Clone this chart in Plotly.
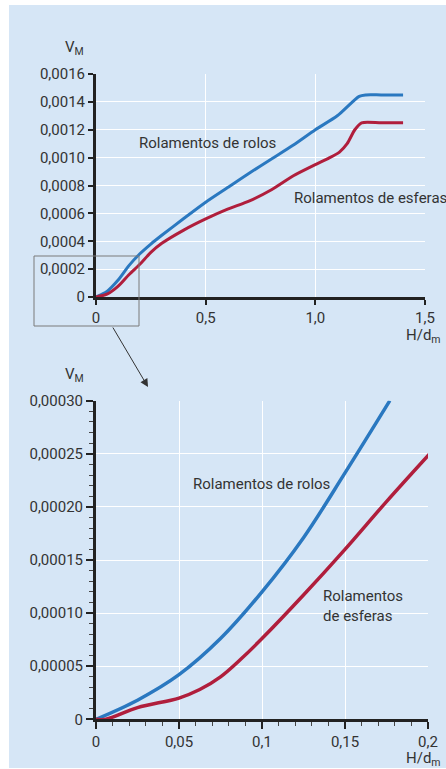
import plotly.graph_objects as go

W, H = 446, 769

# ---- data: overview chart ----
top_x_rolos = [0, 0.05, 0.1, 0.15, 0.2, 0.25, 0.3, 0.4, 0.5, 0.6, 0.7, 0.8, 0.9, 1.0, 1.1, 1.2, 1.23, 1.3, 1.4]
top_y_rolos = [0, 0.00004, 0.00012, 0.000225, 0.00031, 0.00038, 0.000443, 0.000563, 0.00068, 0.000785, 0.00089,
               0.00099, 0.00109, 0.0012, 0.0013, 0.00144, 0.00145, 0.00145, 0.00145]
top_x_esferas = [0, 0.05, 0.1, 0.15, 0.2, 0.25, 0.3, 0.4, 0.5, 0.6, 0.7, 0.8, 0.9, 1.0, 1.06, 1.11, 1.145, 1.18, 1.211, 1.3, 1.4]
top_y_esferas = [0, 0.00002, 0.000076, 0.00016, 0.000235, 0.00032, 0.000385, 0.00048, 0.00056, 0.00063, 0.00069,
                 0.00077, 0.00087, 0.00095, 0.000995, 0.00104, 0.0011, 0.0012, 0.00125, 0.00125, 0.00125]

# ---- data: zoomed chart ----
bot_x_rolos = [0, 0.025, 0.05, 0.075, 0.1, 0.125, 0.15, 0.177]
bot_y_rolos = [0, 0.000018, 0.000042, 0.000076, 0.00012, 0.000171, 0.000232, 0.0003]
bot_x_esferas = [0, 0.006, 0.025, 0.05, 0.0625, 0.075, 0.0875, 0.1, 0.125, 0.15, 0.175, 0.201]
bot_y_esferas = [0, 0, 0.000011, 0.00002, 0.000028, 0.00004, 0.000057, 0.000076, 0.000117, 0.00016, 0.000205, 0.00025]

top_xticks = [0, 0.5, 1.0, 1.5]
top_xlabels = ["0", "0,5", "1,0", "1,5"]
top_yticks = [0, 0.0002, 0.0004, 0.0006, 0.0008, 0.0010, 0.0012, 0.0014, 0.0016]
top_ylabels = ["0", "0,0002", "0,0004", "0,0006", "0,0008", "0,0010", "0,0012", "0,0014", "0,0016"]
bot_xticks = [0, 0.05, 0.1, 0.15, 0.2]
bot_xlabels = ["0", "0,05", "0,1", "0,15", "0,2"]
bot_yticks = [0, 0.00005, 0.0001, 0.00015, 0.0002, 0.00025, 0.0003]
bot_ylabels = ["0", "0,00005", "0,00010", "0,00015", "0,00020", "0,00025", "0,00030"]

BLUE = "#2a78c0"
RED = "#b01e3c"
BG = "#d6e6f6"
TXT = "#333333"
FONT = "Roboto"

fig = go.Figure()
fig.add_trace(go.Scatter(x=top_x_rolos, y=top_y_rolos, mode="lines", line=dict(color=BLUE, width=3, shape="spline", smoothing=0.7),
                         xaxis="x", yaxis="y", showlegend=False, cliponaxis=False))
fig.add_trace(go.Scatter(x=top_x_esferas, y=top_y_esferas, mode="lines", line=dict(color=RED, width=3, shape="spline", smoothing=0.7),
                         xaxis="x", yaxis="y", showlegend=False, cliponaxis=False))
fig.add_trace(go.Scatter(x=bot_x_rolos, y=bot_y_rolos, mode="lines", line=dict(color=BLUE, width=3.5, shape="spline", smoothing=1.0),
                         xaxis="x2", yaxis="y2", showlegend=False, cliponaxis=False))
fig.add_trace(go.Scatter(x=bot_x_esferas, y=bot_y_esferas, mode="lines", line=dict(color=RED, width=3.5, shape="spline", smoothing=1.0),
                         xaxis="x2", yaxis="y2", showlegend=False, cliponaxis=False))

def px_x(p):
    return p / W

def px_y(p):
    return 1 - p / H

axis_common = dict(showline=True, linecolor="#222222", linewidth=3, ticks="outside", tickcolor="#222222",
                   showgrid=True, gridcolor="white", gridwidth=1, zeroline=False, automargin=False,
                   tickfont=dict(family=FONT, size=15, color=TXT), fixedrange=True)

fig.update_layout(
    width=W, height=H,
    margin=dict(l=0, r=0, t=0, b=0, pad=0),
    paper_bgcolor="white",
    plot_bgcolor=BG,
    font=dict(family=FONT, color=TXT),
    xaxis=dict(domain=[px_x(96), px_x(425)], anchor="y", range=[0, 1.5],
               tickvals=top_xticks, ticktext=top_xlabels, ticklen=5, tickwidth=2, **axis_common),
    yaxis=dict(domain=[px_y(297), px_y(74)], anchor="x", range=[0, 0.0016],
               tickvals=top_yticks, ticktext=top_ylabels, ticklen=5, tickwidth=2, **axis_common),
    xaxis2=dict(domain=[px_x(96), px_x(428)], anchor="y2", range=[0, 0.2],
                tickvals=bot_xticks, ticktext=bot_xlabels, ticklen=7, tickwidth=2,
                minor=dict(dtick=0.01, ticks="outside", ticklen=4, tickcolor="#444444", tickwidth=1, showgrid=False),
                **axis_common),
    yaxis2=dict(domain=[px_y(719.3), px_y(400.7)], anchor="x2", range=[0, 0.0003],
                tickvals=bot_yticks, ticktext=bot_ylabels, ticklen=7, tickwidth=2,
                minor=dict(dtick=0.00001, ticks="outside", ticklen=4, tickcolor="#444444", tickwidth=1, showgrid=False),
                **axis_common),
)

shapes = [
    dict(type="rect", xref="paper", yref="paper", x0=px_x(9), x1=1, y0=px_y(768), y1=px_y(5),
         fillcolor=BG, line=dict(width=0), layer="below"),
    dict(type="rect", xref="paper", yref="paper", x0=px_x(34), x1=px_x(139), y0=px_y(326), y1=px_y(256),
         line=dict(color="#7a7a7a", width=1), layer="above"),
]
fig.update_layout(shapes=shapes)

ann_font = dict(family=FONT, size=15, color=TXT)
annotations = [
    dict(text="V<sub>M</sub>", x=px_x(86), y=px_y(48), xref="paper", yref="paper", xanchor="right", yanchor="middle",
         showarrow=False, font=ann_font),
    dict(text="H/d<sub>m</sub>", x=px_x(443), y=px_y(336), xref="paper", yref="paper", xanchor="right", yanchor="middle",
         showarrow=False, font=ann_font),
    dict(text="V<sub>M</sub>", x=px_x(86), y=px_y(375), xref="paper", yref="paper", xanchor="right", yanchor="middle",
         showarrow=False, font=ann_font),
    dict(text="H/d<sub>m</sub>", x=px_x(443), y=px_y(759), xref="paper", yref="paper", xanchor="right", yanchor="middle",
         showarrow=False, font=ann_font),
    dict(text="Rolamentos de rolos", x=px_x(137), y=px_y(143), xref="paper", yref="paper", xanchor="left", yanchor="middle",
         showarrow=False, font=ann_font),
    dict(text="Rolamentos de esferas", x=px_x(292), y=px_y(198), xref="paper", yref="paper", xanchor="left", yanchor="middle",
         showarrow=False, font=ann_font),
    dict(text="Rolamentos de rolos", x=px_x(191), y=px_y(484), xref="paper", yref="paper", xanchor="left", yanchor="middle",
         showarrow=False, font=ann_font),
    dict(text="Rolamentos<br>de esferas", x=px_x(321), y=px_y(606), xref="paper", yref="paper", xanchor="left", yanchor="middle",
         align="left", showarrow=False, font=ann_font),
    dict(text="", x=px_x(148), y=px_y(387), xref="paper", yref="paper", showarrow=True,
         ax=-36, ay=-61, axref="pixel", ayref="pixel", arrowhead=2, arrowsize=1.6, arrowwidth=1, arrowcolor="#333333"),
]
fig.update_layout(annotations=annotations)

fig.write_html("out.html")
